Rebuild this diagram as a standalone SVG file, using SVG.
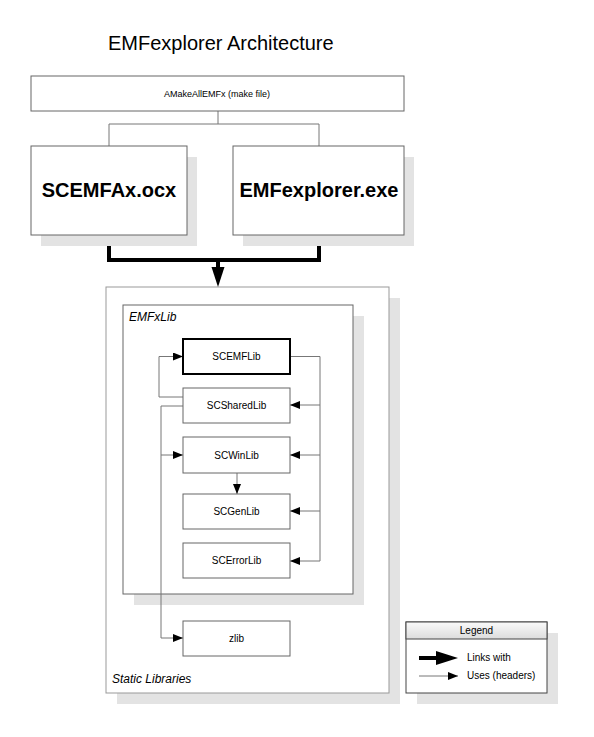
<svg xmlns="http://www.w3.org/2000/svg" width="594" height="737" viewBox="0 0 594 737">
<defs>
<style>
text{font-family:"Liberation Sans",Arial,sans-serif;fill:#000}
.box{fill:#fff;stroke:#666;stroke-width:1}
.shadow{fill:#e3e3e3;stroke:none}
.thin{fill:none;stroke:#777;stroke-width:1}
.thick{fill:none;stroke:#000;stroke-width:4}
.lbl{font-size:10px;text-anchor:middle}
.big{font-size:20px;font-weight:bold;text-anchor:middle}
.it{font-size:12px;font-style:italic}
</style>
<marker id="ah" markerUnits="userSpaceOnUse" markerWidth="10" markerHeight="8" refX="10" refY="4" orient="auto">
<path d="M0,0 L10,4 L0,8 z" fill="#000"/>
</marker>
<linearGradient id="hdr" x1="0" y1="0" x2="0" y2="1">
<stop offset="0" stop-color="#fafafa"/>
<stop offset="1" stop-color="#dcdcdc"/>
</linearGradient>
</defs>
<rect width="594" height="737" fill="#fff"/>
<text x="108" y="50" style="font-size:20px">EMFexplorer Architecture</text>

<g id="static">
<rect class="shadow" x="117" y="298" width="283" height="406"/>
<rect x="106" y="287" width="283" height="406" fill="#fff" stroke="#999" stroke-width="1"/>
<text class="it" x="112" y="683">Static Libraries</text>
</g>
<g id="emfxlib">
<rect class="shadow" x="134" y="316" width="230" height="289"/>
<rect class="box" x="123" y="305" width="230" height="289"/>
<text class="it" x="129" y="321">EMFxLib</text>
</g>

<g id="connectors">
<path class="thin" d="M218,111 V124 M109,124 H319 M109,124 V146 M319,124 V146"/>
<path class="thick" d="M109,235 V260 H319 V235 M218,260 V270"/>
<polygon points="211.5,267 224.5,267 218,287" fill="#000"/>
<path class="thin" d="M290,356.5 H320 V561 H290" marker-end="url(#ah)"/>
<path class="thin" d="M320,405 H290" marker-end="url(#ah)"/>
<path class="thin" d="M320,455 H290" marker-end="url(#ah)"/>
<path class="thin" d="M320,511 H290" marker-end="url(#ah)"/>
<path class="thin" d="M183,397 H159 V356.5 H183" marker-end="url(#ah)"/>
<path class="thin" d="M183,406 H161 V638 H183" marker-end="url(#ah)"/>
<path class="thin" d="M161,455 H183" marker-end="url(#ah)"/>
<path class="thin" d="M237,473 V494" marker-end="url(#ah)"/>
</g>

<g id="make">
<rect class="box" x="31" y="76" width="373" height="35"/>
<text x="217" y="97" style="font-size:9px;text-anchor:middle">AMakeAllEMFx (make file)</text>
</g>
<g id="scemfax">
<rect class="shadow" x="41" y="157" width="156" height="89"/>
<rect class="box" x="31" y="146" width="156" height="89"/>
<text class="big" x="109" y="197">SCEMFAx.ocx</text>
</g>
<g id="emfexplorer">
<rect class="shadow" x="243" y="157" width="171" height="89"/>
<rect class="box" x="233" y="146" width="171" height="89"/>
<text class="big" x="319" y="197">EMFexplorer.exe</text>
</g>

<g id="scemflib">
<rect x="183" y="339" width="107" height="35" fill="#fff" stroke="#000" stroke-width="2"/>
<text class="lbl" x="236.5" y="360">SCEMFLib</text>
</g>
<g id="scsharedlib">
<rect class="box" x="183" y="388" width="107" height="35"/>
<text class="lbl" x="236.5" y="409">SCSharedLib</text>
</g>
<g id="scwinlib">
<rect class="box" x="183" y="437" width="107" height="36"/>
<text class="lbl" x="236.5" y="459">SCWinLib</text>
</g>
<g id="scgenlib">
<rect class="box" x="183" y="494" width="107" height="35"/>
<text class="lbl" x="236.5" y="515">SCGenLib</text>
</g>
<g id="scerrorlib">
<rect class="box" x="183" y="543" width="107" height="35"/>
<text class="lbl" x="236.5" y="564">SCErrorLib</text>
</g>
<g id="zlib">
<rect class="box" x="183" y="621" width="107" height="35"/>
<text class="lbl" x="236.5" y="642">zlib</text>
</g>

<g id="legend">
<rect class="shadow" x="417" y="633" width="141" height="71"/>
<rect x="406" y="622" width="141" height="71" fill="#fff" stroke="#444" stroke-width="1"/>
<rect x="406" y="622" width="141" height="17" fill="url(#hdr)" stroke="#444" stroke-width="1"/>
<text class="lbl" x="476.5" y="634">Legend</text>
<path d="M419,658 H438" stroke="#000" stroke-width="4"/>
<polygon points="436,651 458,658 436,665" fill="#000"/>
<text x="467" y="661" style="font-size:10px">Links with</text>
<path class="thin" d="M419,676 H458" stroke="#000" marker-end="url(#ah)"/>
<text x="467" y="679" style="font-size:10px">Uses (headers)</text>
</g>
</svg>
